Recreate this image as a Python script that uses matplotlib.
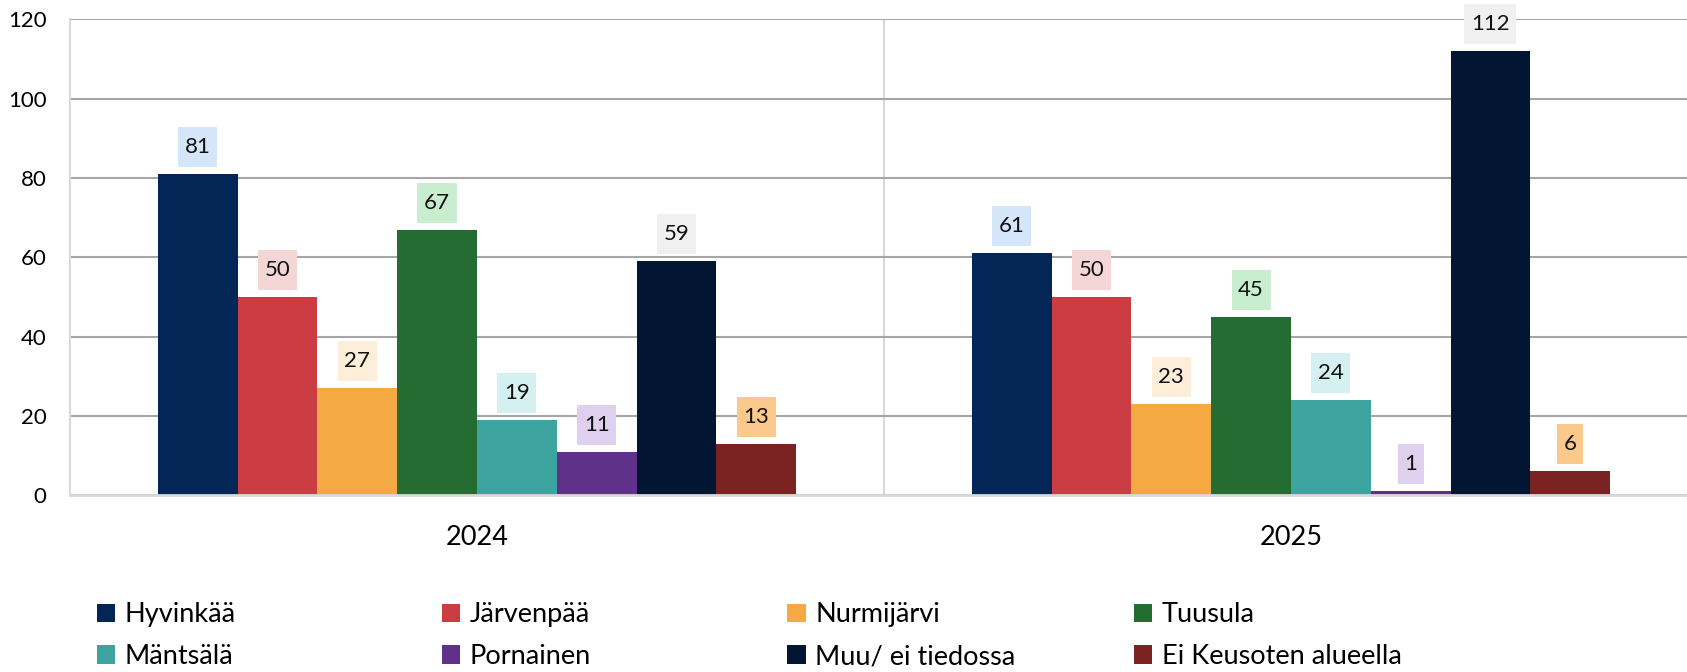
import matplotlib.pyplot as plt
import numpy as np
from matplotlib.path import Path

plt.rcParams['font.family'] = ['Lato', 'DejaVu Sans']

years = ['2024', '2025']
areas = ['Hyvinkää', 'Järvenpää', 'Nurmijärvi', 'Tuusula',
         'Mäntsälä', 'Pornainen', 'Muu/ ei tiedossa', 'Ei Keusoten alueella']
values = [
    [81, 61],
    [50, 50],
    [27, 23],
    [67, 45],
    [19, 24],
    [11, 1],
    [59, 112],
    [13, 6],
]
colors = ['#032656', '#CB3D42', '#F5A943', '#256C32',
          '#3DA4A0', '#5F3189', '#021633', '#7B2323']
box_colors = ['#D6E6FA', '#F4D6D7', '#FDEEDA', '#C8EECF',
              '#D5F0F0', '#DED0EE', '#F0F0F0', '#FBC98B']


def label_box(x0, y0, width, height, mutation_size):
    # wider vertical than horizontal padding, like the Excel data labels
    px = 0.3 * mutation_size
    py = 0.45 * mutation_size
    return Path([(x0 - px, y0 - py), (x0 + width + px, y0 - py),
                 (x0 + width + px, y0 + height + py), (x0 - px, y0 + height + py),
                 (x0 - px, y0 - py)], closed=True)


fig = plt.figure(figsize=(16.87, 6.72), dpi=100)
ax = fig.add_axes([0.0415, 0.263, 0.965, 0.708])

x = np.arange(len(years))
w = 0.784 / len(areas)
handles = []
for i, (name, vals) in enumerate(zip(areas, values)):
    pos = x - 0.392 + w * (i + 0.5)
    bars = ax.bar(pos, vals, width=w, color=colors[i], label=name, zorder=3)
    handles.append(bars)
    for b, v in zip(bars, vals):
        ax.annotate(str(v), (b.get_x() + b.get_width() / 2, v),
                    xytext=(0, 19.5), textcoords='offset points',
                    ha='center', va='center', fontsize=16, color='#111111',
                    bbox=dict(boxstyle=label_box, fc=box_colors[i], ec='none'),
                    zorder=5)

ax.set_ylim(0, 120)
ax.set_xlim(-0.5, 1.5)
ax.set_yticks(range(0, 121, 20))
ax.yaxis.grid(True, color='#A6A6A6', linewidth=1.5, zorder=0)
ax.axvline(0.5, color='#D9D9D9', linewidth=1.5, zorder=1)
ax.set_xticks(x)
ax.set_xticklabels(years, fontsize=19.5)
ax.tick_params(axis='both', length=0)
ax.tick_params(axis='y', labelsize=16, pad=17)
ax.tick_params(axis='x', pad=21.5)
for s in ['top', 'right']:
    ax.spines[s].set_visible(False)
ax.spines['left'].set_color('#D9D9D9')
ax.spines['left'].set_linewidth(1.5)
ax.spines['bottom'].set_color('#D9D9D9')
ax.spines['bottom'].set_linewidth(2)
ax.spines['bottom'].set_zorder(4)

# legend: four columns at fixed positions, two rows each
col_x = [0.0574, 0.262, 0.4668, 0.672]
for c, cx in enumerate(col_x):
    leg = fig.legend([handles[c], handles[c + 4]], [areas[c], areas[c + 4]],
                     loc='center left', bbox_to_anchor=(cx, 0.054),
                     frameon=False, fontsize=19.5, handlelength=0.68,
                     handleheight=0.68, handletextpad=0.35, labelspacing=0.62,
                     borderpad=0, borderaxespad=0)

fig.savefig('out.png', dpi=100)
